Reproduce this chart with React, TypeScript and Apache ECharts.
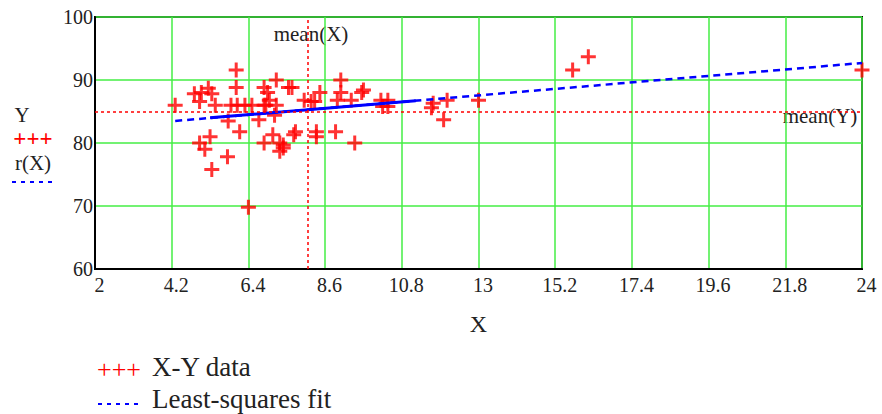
import React, { useEffect, useRef } from "react";
import * as echarts from "echarts";

// X-Y data
const dataX = [
  4.3, 4.85, 5.05, 5.25, 5.35, 5.0, 5.45, 5.9, 6.08, 6.3, 6.05, 6.05, 5.82, 6.15, 5.3, 5.0, 5.15, 5.8, 5.35, 6.4,
  6.85, 6.95, 7.2, 7.55, 7.65, 7.0, 7.2, 6.5, 6.85, 6.9, 8.0, 8.2, 8.3, 8.45, 7.15, 6.7, 7.75, 7.7, 7.1, 6.85,
  7.3, 7.4, 7.3, 7.4, 8.35, 8.35, 8.9, 9.05, 9.05, 9.65, 9.7, 9.35, 8.95, 10.2, 10.4, 10.25, 10.4, 9.45,
  11.7, 11.65, 12.1, 12.0, 13.0, 15.7, 16.15, 24,
];
const dataY = [
  86, 87.8, 88, 88.7, 87.8, 86.6, 86, 86, 86, 86, 91.6, 88.8, 83.5, 81.8, 81, 80, 79, 77.8, 75.8, 69.8,
  88.8, 88, 90, 88.8, 88.8, 86.8, 86, 86, 86, 86, 86.8, 86.6, 86.6, 88, 84.4, 83.7, 81.8, 81.3, 81.3, 80,
  80, 79.7, 78.7, 79.2, 81.8, 81, 81.8, 90, 88, 88, 88.4, 86.8, 86.8, 86.8, 86.8, 85.8, 85.8, 80,
  86.3, 85.6, 86.8, 83.7, 86.8, 91.6, 93.7, 91.6,
];

// Least-squares fit line
const fitX = [4.3, 24];
const fitY = [83.5, 92.7];
const fitDenseX = [5.3, 11.2];
const fitDenseY = [84.0, 86.7];

const meanX = 8.1;
const meanY = 85;

const xTicks = [2, 4.2, 6.4, 8.6, 10.8, 13, 15.2, 17.4, 19.6, 21.8, 24];
const xMin = 2;
const xMax = 24;
const yMin = 60;
const yMax = 100;
const yStep = 10;

const FONT = "'Liberation Serif', 'Times New Roman', serif";
const PLUS = "path://M5.2,0H7.8V5.2H13V7.8H7.8V13H5.2V7.8H0V5.2H5.2Z";
const MEAN_LINE = { color: "#ff0000", width: 1.5, type: [3, 3] as number[] };

export default function App() {
  const ref = useRef<HTMLDivElement>(null);

  useEffect(() => {
    const chart = echarts.init(ref.current!, null, { renderer: "svg" });
    const scatter = dataX.map((x, i) => [x, dataY[i]]);
    const fit = fitX.map((x, i) => [x, fitY[i]]);
    const fitDense = fitDenseX.map((x, i) => [x, fitDenseY[i]]);

    chart.setOption({
      animation: false,
      backgroundColor: "#ffffff",
      textStyle: { fontFamily: FONT },
      grid: {
        left: 95,
        right: 20,
        top: 17,
        bottom: 145,
        show: true,
        borderColor: "#000",
        borderWidth: 2,
        backgroundColor: "#fff",
      },
      xAxis: {
        type: "value",
        min: xMin,
        max: xMax,
        name: "X",
        nameLocation: "middle",
        nameGap: 43,
        nameTextStyle: { fontFamily: FONT, fontSize: 24, color: "#222" },
        axisLine: { show: true, onZero: false, lineStyle: { color: "#000", width: 2 } },
        axisTick: { show: false, customValues: xTicks },
        axisLabel: {
          customValues: xTicks,
          fontFamily: FONT,
          fontSize: 20,
          color: "#222",
          margin: 6,
          padding: [0, 0, 0, 9],
        },
        splitLine: { show: true, lineStyle: { color: "#44ee44", width: 1.5 } },
      },
      yAxis: {
        type: "value",
        min: yMin,
        max: yMax,
        interval: yStep,
        axisLine: { show: true, onZero: false, lineStyle: { color: "#000", width: 2 } },
        axisTick: { show: false },
        axisLabel: {
          fontFamily: FONT,
          fontSize: 20,
          color: "#222",
          margin: 2,
          padding: [9, 0, 0, 0],
        },
        splitLine: { show: true, lineStyle: { color: "#44ee44", width: 1.5 } },
      },
      series: [
        {
          name: "X-Y data",
          type: "scatter",
          data: scatter,
          symbol: PLUS,
          symbolSize: 15,
          itemStyle: { color: "#ff0000" },
          z: 3,
          markLine: {
            silent: true,
            symbol: "none",
            label: { show: false },
            lineStyle: MEAN_LINE,
            data: [
              { xAxis: meanX, lineStyle: MEAN_LINE },
              { yAxis: meanY, lineStyle: MEAN_LINE },
            ],
          },
        },
        {
          name: "Least-squares fit",
          type: "line",
          data: fit,
          showSymbol: false,
          lineStyle: { color: "#0000ff", width: 2.5, type: [7, 5] },
          z: 4,
        },
        {
          name: "Least-squares fit dense",
          type: "line",
          data: fitDense,
          showSymbol: false,
          lineStyle: { color: "#0000ff", width: 3 },
          z: 4,
        },
      ],
      graphic: [
        { type: "text", x: 311, y: 34, style: { text: "mean(X)", font: `21px ${FONT}`, fill: "#222", align: "center", verticalAlign: "middle" } },
        { type: "text", x: 820, y: 116, style: { text: "mean(Y)", font: `21px ${FONT}`, fill: "#222", align: "center", verticalAlign: "middle" } },
        { type: "text", x: 22, y: 115, style: { text: "Y", font: `21px ${FONT}`, fill: "#222", align: "center", verticalAlign: "middle" } },
        { type: "text", x: 33, y: 138, style: { text: "+++", font: `bold 23px ${FONT}`, fill: "#ff0000", align: "center", verticalAlign: "middle" } },
        { type: "text", x: 33, y: 163, style: { text: "r(X)", font: `21px ${FONT}`, fill: "#222", align: "center", verticalAlign: "middle" } },
        { type: "line", shape: { x1: 12, y1: 182, x2: 53, y2: 182 }, style: { stroke: "#0000ff", lineWidth: 2, lineDash: [4, 5] } },
        { type: "text", x: 97, y: 369, style: { text: "+++", font: `26px ${FONT}`, fill: "#ff0000", align: "left", verticalAlign: "middle" } },
        { type: "text", x: 152, y: 367, style: { text: "X-Y data", font: `27px ${FONT}`, fill: "#222", align: "left", verticalAlign: "middle" } },
        { type: "line", shape: { x1: 98, y1: 404, x2: 143, y2: 404 }, style: { stroke: "#0000ff", lineWidth: 2, lineDash: [4, 5] } },
        { type: "text", x: 152, y: 399, style: { text: "Least-squares fit", font: `27px ${FONT}`, fill: "#222", align: "left", verticalAlign: "middle" } },
      ],
    });
    return () => chart.dispose();
  }, []);

  return (
    <div
      ref={ref}
      style={{ position: "fixed", left: 0, top: 0, width: 882, height: 414 }}
    />
  );
}
